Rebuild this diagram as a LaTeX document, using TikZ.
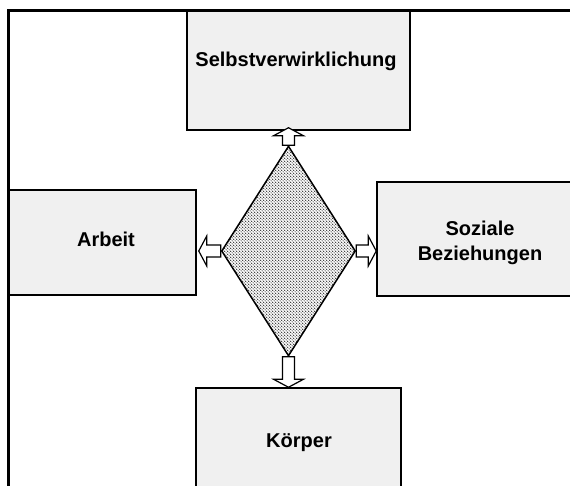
\documentclass[tikz,border=0pt]{standalone}
\usepackage{fontspec}
\setmainfont{Liberation Sans}
\usetikzlibrary{shapes.geometric,patterns,calc}
\definecolor{boxfill}{RGB}{240,240,240}
\pgfdeclarepatternformonly{mydots}{\pgfpointorigin}{\pgfqpoint{3.4pt}{3.4pt}}{\pgfqpoint{3.4pt}{3.4pt}}{%
  \pgfpathcircle{\pgfqpoint{0.85pt}{0.85pt}}{0.65pt}
  \pgfpathcircle{\pgfqpoint{2.55pt}{2.55pt}}{0.65pt}
  \pgfusepath{fill}}
\tikzset{
  box/.style={draw=black, line width=1.5pt, fill=boxfill, rectangle, inner sep=0pt},
  lbl/.style={font=\fontsize{20}{25}\selectfont\bfseries, align=center, inner sep=0pt, anchor=base},
  blk/.style={draw=black, line width=1.2pt, fill=white, line join=miter},
}
\newcommand\blkarrow[2]{%
  \coordinate (ha) at ($(#2)!8pt!(#1)$);
  \draw[blk] ($(#1)!6pt!90:(#2)$) -- ($(ha)!6pt!90:(#2)$) -- ($(ha)!15pt!90:(#2)$) -- (#2)
    -- ($(ha)!15pt!-90:(#2)$) -- ($(ha)!6pt!-90:(#2)$) -- ($(#1)!6pt!-90:(#2)$) -- cycle;
}
\begin{document}
\begin{tikzpicture}[x=1pt,y=-1pt]
\useasboundingbox (0,0) rectangle (570,486);
\clip (0,0) rectangle (570,486);
\fill[white] (0,0) rectangle (570,486);
% boxes
\node[box, minimum width=223pt, minimum height=119pt] (top) at (298.5,70.5) {};
\node[box, minimum width=188pt, minimum height=105pt] (arb) at (102,242.5) {};
\node[box, minimum width=223pt, minimum height=114pt] (soz) at (488.5,239) {};
\node[box, minimum width=205pt, minimum height=122pt] (koe) at (298.5,449) {};
% frame
\coordinate (fc) at (8,11);
\coordinate (fr) at (575,11);
\coordinate (fb) at (8,490);
\draw[line width=3pt] (fr) -- (fc) -- (fb);
% labels
\node[lbl] (t1) at (296,67) {Selbstverwirklichung};
\node[lbl] (t2) at (106,247) {Arbeit};
\node[lbl] (t3a) at (480,236) {Soziale};
\node[lbl] (t3b) at (480,261) {Beziehungen};
\node[lbl] (t4) at (299,447) {Körper};
% diamond
\node[diamond, draw=black, line width=1.5pt, pattern=mydots, inner sep=0pt,
      minimum width=134pt, minimum height=210pt] (d) at (288.5,251) {};
% arrows
\coordinate (tT) at ($(d.north |- top.south)+(0,-3)$);
\coordinate (tB) at (d.south |- koe.north);
\coordinate (tL) at ($(d.west -| arb.east)+(2,0)$);
\coordinate (tR) at (d.east -| soz.west);
\blkarrow{d.north}{tT}
\blkarrow{d.south}{tB}
\blkarrow{d.west}{tL}
\blkarrow{d.east}{tR}
\end{tikzpicture}
\end{document}
